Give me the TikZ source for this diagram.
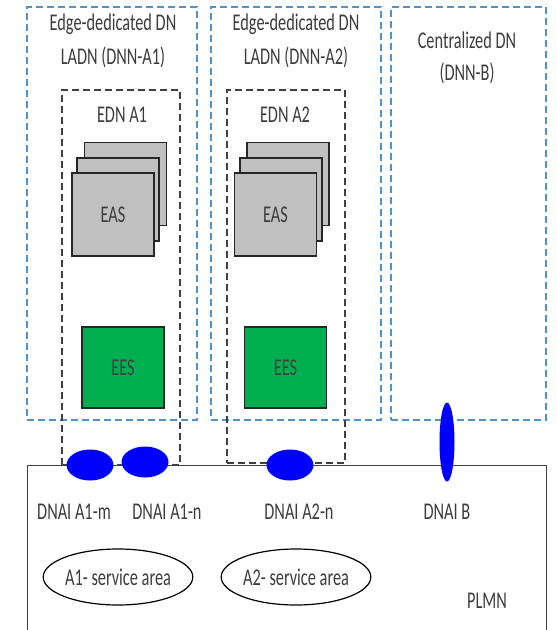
\documentclass[tikz,border=0pt]{standalone}
\usepackage{fontspec}
\setmainfont{Carlito}[FakeStretch=0.68]
\usetikzlibrary{shapes.geometric}
\definecolor{dnblue}{HTML}{4F93C9}
\definecolor{txt}{HTML}{3C3C3C}
\definecolor{eesgreen}{HTML}{00B050}
\definecolor{easgray}{HTML}{C0C0C0}
\definecolor{dnaiblue}{HTML}{0000FF}
\begin{document}
\begin{tikzpicture}[x=1pt,y=-1pt,
  every node/.style={font=\fontsize{24}{28}\selectfont, text=txt},
  dnbox/.style={draw=dnblue, dash pattern=on 7pt off 4pt, line width=1.3pt, rectangle, inner sep=0},
  ednbox/.style={draw=black!75, dash pattern=on 7pt off 4pt, line width=1.3pt, rectangle, inner sep=0},
  eas/.style={draw=black!85, fill=easgray, line width=1.2pt, minimum width=82pt, minimum height=83pt, inner sep=0},
  ees/.style={draw=black!85, fill=eesgreen, line width=1.2pt, minimum width=82pt, minimum height=81pt, inner sep=0, text=black!75},
  dnai/.style={ellipse, fill=dnaiblue, inner sep=0},
  area/.style={ellipse, draw=black, line width=1.2pt, minimum width=148pt, minimum height=56pt, inner sep=0},
  lbl/.style={inner sep=0, anchor=base}]
\useasboundingbox (0,0) rectangle (557,630);
% PLMN
\node[draw=black!75, line width=1.3pt, minimum width=519pt, minimum height=180pt, anchor=north west, inner sep=0] (plmn) at (27,465) {};
% DN boxes
\node[dnbox, minimum width=170pt, minimum height=413pt] (dn1) at (112,213.5) {};
\node[dnbox, minimum width=170pt, minimum height=413pt] (dn2) at (296,213.5) {};
\node[dnbox, minimum width=155pt, minimum height=413pt] (dnb) at (468.5,213.5) {};
% EDN boxes
\node[ednbox, minimum width=118pt, minimum height=375pt] (edn1) at (121,277.5) {};
\node[ednbox, minimum width=118pt, minimum height=373pt] (edn2) at (286,276.5) {};
% titles
\node[lbl] (t1a) at (113,30) {Edge-dedicated DN};
\node[lbl] (t1b) at (113,64) {LADN (DNN-A1)};
\node[lbl] (t2a) at (296,30) {Edge-dedicated DN};
\node[lbl] (t2b) at (296,64) {LADN (DNN-A2)};
\node[lbl] (t3a) at (467,48) {Centralized DN};
\node[lbl] (t3b) at (467,80) {(DNN-B)};
\node[lbl] (e1) at (122,122) {EDN A1};
\node[lbl] (e2) at (285,122) {EDN A2};
% EAS stacks
\node[eas] (eas1c) at (125.5,184) {};
\node[eas] (eas1b) at (118,199.5) {};
\node[eas] (eas1a) at (113,214.5) {EAS};
\node[eas] (eas2c) at (288,184) {};
\node[eas] (eas2b) at (281,199.5) {};
\node[eas] (eas2a) at (275.5,214.5) {EAS};
% EES
\node[ees] (ees1) at (123,367.5) {EES};
\node[ees] (ees2) at (285.5,367.5) {EES};
% DNAI
\node[dnai, minimum width=47pt, minimum height=31pt] (a1m) at (90,465) {};
\node[dnai, minimum width=47pt, minimum height=31pt] (a1n) at (145,462) {};
\node[dnai, minimum width=47pt, minimum height=31pt] (a2n) at (290,465) {};
\node[dnai, minimum width=15pt, minimum height=79pt] (dnaib) at (447,442) {};
\node[lbl] (la1m) at (74,519) {DNAI A1-m};
\node[lbl] (la1n) at (167,519) {DNAI A1-n};
\node[lbl] (la2n) at (299,519) {DNAI A2-n};
\node[lbl] (lb) at (447,519) {DNAI B};
% service areas
\node[area] (sa1) at (118,577) {A1- service area};
\node[area] (sa2) at (296,577) {A2- service area};
\node[lbl] (plmnl) at (487,608) {PLMN};
\end{tikzpicture}
\end{document}
